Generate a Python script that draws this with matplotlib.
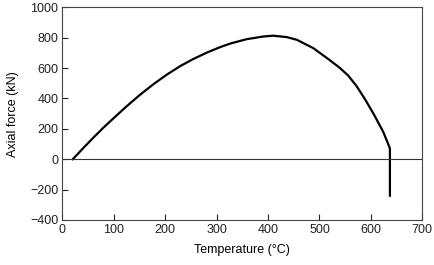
import matplotlib
matplotlib.use("Agg")
import matplotlib.pyplot as plt

temperature = [20, 40, 60, 80, 100, 125, 150, 177, 203, 229, 254, 281, 306, 326, 358, 391, 410,
               436, 456, 488, 520, 540, 556, 572, 588, 605, 624, 637, 637]
axial_force = [0, 72, 142, 209, 272, 349, 422, 494, 557, 613, 659, 702, 737, 761, 790, 808, 813,
               804, 786, 731, 652, 600, 550, 482, 398, 300, 180, 72, -240]
xticks = [0, 100, 200, 300, 400, 500, 600, 700]
yticks = [-400, -200, 0, 200, 400, 600, 800, 1000]

plt.rcParams['font.family'] = ['Liberation Sans', 'DejaVu Sans']
fig = plt.figure(figsize=(4.35, 2.65), dpi=100)
ax = fig.add_axes([62.5/435, 1-220/265, (422.3-62.5)/435, (220-7.3)/265])
ax.plot(temperature, axial_force, color='black', lw=1.6, solid_joinstyle='round')
ax.axhline(0, color='#333333', lw=0.8)
ax.set_xlim(0, 700)
ax.set_ylim(-400, 1000)
ax.set_xticks(xticks)
ax.set_yticks(yticks)
ax.set_yticklabels([str(v).replace('-', '\u2212') for v in yticks])
ax.tick_params(direction='in', length=4.5, width=0.8, labelsize=9, colors='#222222', pad=3)
for s in ax.spines.values():
    s.set_linewidth(0.8)
    s.set_color('#444444')
ax.set_xlabel('Temperature (°C)', fontsize=9, labelpad=6)
ax.set_ylabel('Axial force (kN)', fontsize=9, labelpad=8)
fig.savefig('out.png', dpi=100)
